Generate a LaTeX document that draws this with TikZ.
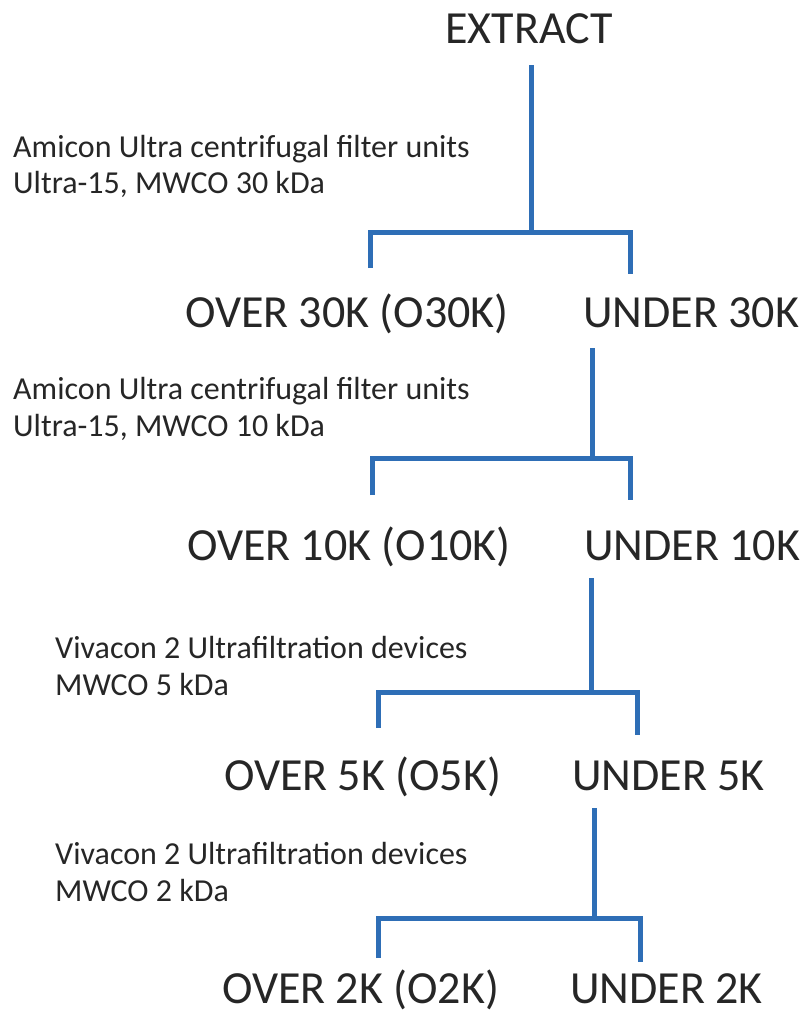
\documentclass[tikz,border=0pt]{standalone}
\usepackage{fontspec}
\setmainfont{Carlito}
\definecolor{flowblue}{RGB}{46,110,182}
\definecolor{ink}{RGB}{38,38,38}
\begin{document}
\begin{tikzpicture}[x=1pt,y=-1pt,
  big/.style={font=\fontsize{46}{50}\selectfont, text=ink, inner sep=0pt, anchor=base west},
  note/.style={font=\fontsize{32}{37}\selectfont, text=ink, inner sep=0pt, anchor=base west, align=left},
  link/.style={draw=flowblue, line width=5pt, line join=miter}]
\useasboundingbox (0,0) rectangle (809,1015);

% fractions
\node[big, anchor=base] (extract) at (529,43) {EXTRACT};
\node[big] (over30)  at (185,327) {OVER 30K (O30K)};
\node[big] (under30) at (583,327) {UNDER 30K};
\node[big] (over10)  at (187,560) {OVER 10K (O10K)};
\node[big] (under10) at (584,560) {UNDER 10K};
\node[big] (over5)   at (224,790) {OVER 5K (O5K)};
\node[big] (under5)  at (572,790) {UNDER 5K};
\node[big] (over2)   at (222,1003) {OVER 2K (O2K)};
\node[big] (under2)  at (570,1003) {UNDER 2K};

% filtration steps
\node[note] (f1a) at (13,157) {Amicon Ultra centrifugal filter units};
\node[note] (f1b) at (13,193) {Ultra-15, MWCO 30 kDa};
\node[note] (f2a) at (13,399) {Amicon Ultra centrifugal filter units};
\node[note] (f2b) at (13,436) {Ultra-15, MWCO 10 kDa};
\node[note] (f3a) at (55,658) {Vivacon 2 Ultrafiltration devices};
\node[note] (f3b) at (55,695) {MWCO 5 kDa};
\node[note] (f4a) at (55,864) {Vivacon 2 Ultrafiltration devices};
\node[note] (f4b) at (55,901) {MWCO 2 kDa};

% split points
\coordinate (s1) at (531,65);  \coordinate (j1) at (531,232);
\coordinate (l1) at (370,268); \coordinate (r1) at (630,274);
\coordinate (s2) at (592,348); \coordinate (j2) at (592,458);
\coordinate (l2) at (372,495); \coordinate (r2) at (630,500);
\coordinate (s3) at (591,578); \coordinate (j3) at (591,692);
\coordinate (l3) at (378,728); \coordinate (r3) at (637,735);
\coordinate (s4) at (594,808); \coordinate (j4) at (594,918);
\coordinate (l4) at (378,958); \coordinate (r4) at (640,962);

\draw[link] (s1) -- (j1);  \draw[link] (l1) |- (j1) -| (r1);
\draw[link] (s2) -- (j2);  \draw[link] (l2) |- (j2) -| (r2);
\draw[link] (s3) -- (j3);  \draw[link] (l3) |- (j3) -| (r3);
\draw[link] (s4) -- (j4);  \draw[link] (l4) |- (j4) -| (r4);
\end{tikzpicture}
\end{document}
